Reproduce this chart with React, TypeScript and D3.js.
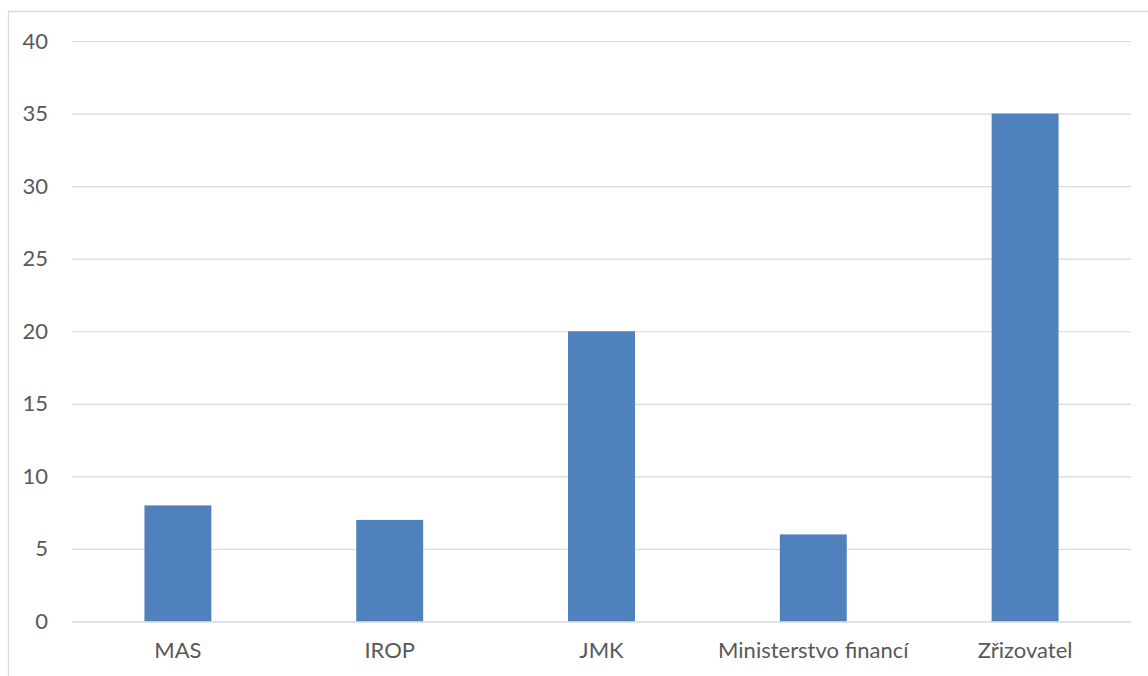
import { useRef, useEffect } from 'react';
import * as d3 from 'd3';

const categories = ['MAS', 'IROP', 'JMK', 'Ministerstvo financí', 'Zřizovatel'];
const values = [8, 7, 20, 6, 35];
const yTicks = [0, 5, 10, 15, 20, 25, 30, 35, 40];

const App = () => {
    const svgRef = useRef<SVGSVGElement | null>(null);

    useEffect(() => {
        document.body.style.margin = '0';

        const svgElement = svgRef.current;
        if (!svgElement) return;

        const width = 1148;
        const height = 676;
        const margin = { top: 41, right: 17, bottom: 54, left: 72 };

        const svg = d3.select(svgElement)
            .attr('width', width)
            .attr('height', height);

        svg.selectAll('*').remove();

        // chart frame (runs off the right and bottom of the picture)
        svg.append('rect')
            .attr('x', 8.5)
            .attr('y', 11.5)
            .attr('width', width + 20)
            .attr('height', height + 20)
            .attr('fill', '#fff')
            .attr('stroke', '#d9d9d9')
            .attr('stroke-width', 1.3);

        const x = d3.scaleBand<string>()
            .domain(categories)
            .range([margin.left, width - margin.right])
            .paddingInner(0.684)
            .paddingOuter(0.342);

        const y = d3.scaleLinear()
            .domain([0, 40])
            .range([height - margin.bottom - 0.5, margin.top]);

        const font = 'Lato, "Liberation Sans", sans-serif';

        // horizontal grid
        const yAxis = svg.append('g')
            .attr('transform', `translate(${margin.left}, 0)`)
            .call(d3.axisLeft(y)
                .tickValues(yTicks)
                .tickSize(-(width - margin.left - margin.right))
                .tickPadding(24)
            );

        yAxis.select('.domain').remove();

        yAxis.selectAll('line')
            .attr('stroke', '#d9d9d9')
            .attr('stroke-width', 1.2);

        yAxis.selectAll('text')
            .attr('fill', '#595959')
            .style('font-family', font)
            .style('font-size', '22px');

        // bars
        svg.append('g')
            .selectAll('rect')
            .data(values)
            .join('rect')
            .attr('x', (_, i) => x(categories[i]) as number)
            .attr('y', d => y(d))
            .attr('width', x.bandwidth())
            .attr('height', d => y(0) - y(d))
            .attr('fill', '#4f81bd');

        // category labels
        const xAxis = svg.append('g')
            .attr('transform', `translate(0, ${y(0)})`)
            .call(d3.axisBottom(x).tickSize(0).tickPadding(21));

        xAxis.select('.domain')
            .attr('stroke', '#d9d9d9')
            .attr('stroke-width', 1.2);

        xAxis.selectAll('text')
            .attr('fill', '#595959')
            .style('font-family', font)
            .style('font-size', '22px');
    }, []);

    return (
        <div style={{ width: 1148, height: 676, background: '#fff' }}>
            <svg ref={svgRef} style={{ display: 'block' }}></svg>
        </div>
    );
};

export default App;
